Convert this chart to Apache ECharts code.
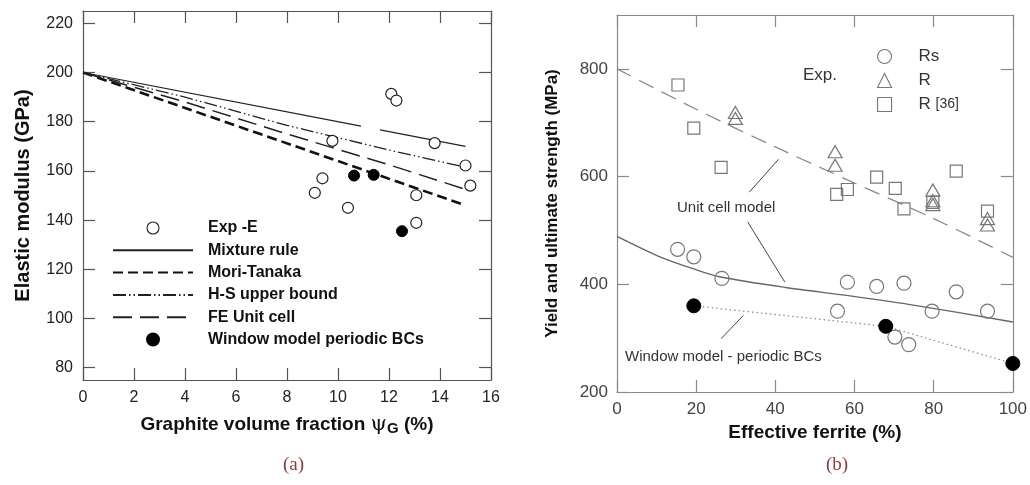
<!DOCTYPE html>
<html><head><meta charset="utf-8">
<script src="https://cdn.jsdelivr.net/npm/echarts@6/dist/echarts.min.js"></script>
<style>html,body{margin:0;padding:0;background:#fff}#c{width:1030px;height:485px}</style>
</head><body><div id="c"></div>
<script>
// ---------- Chart (a) data ----------
const expE = [[12.09,191.3],[12.29,188.6],[9.78,172.2],[13.79,171.3],[15.0,162.2],[15.19,154.0],[9.39,157.0],[9.09,151.1],[10.39,145.0],[13.07,150.1],[13.07,138.9]];
const windowA = [[10.63,158.1],[11.4,158.4],[12.51,135.5]];
const mixtureRule = [[0,200],[10.9,178.2],[11.3,'-'],[11.65,176.7],[15,170]];
const moriTanaka = [[0,200],[5,182],[10,164],[15,146]];
const hsUpper = [[0,200],[4,190],[8,178.5],[12,168.5],[15,161.5]];
const feUnitCell = [[0,200],[4,188],[8,175],[12,162.5],[15,152.5]];
const yTicksA = [80,100,120,140,160,180,200,220];

// ---------- Chart (b) data ----------
const rsExp = [[15.3,465],[19.4,451],[26.5,411],[55.7,350],[58.2,404],[65.6,396],[72.5,402],[79.6,350],[85.7,386],[93.6,350],[70.2,302],[73.7,288]];
const rExp = [[29.9,719],[29.9,708],[55.1,646],[55.1,621],[79.8,575],[79.8,555],[79.8,548],[93.6,522],[93.6,510]];
const r36 = [[15.4,770],[19.4,690],[26.3,617],[55.5,567],[58.2,576],[65.6,599],[70.3,578],[72.5,540],[85.7,610],[93.6,536],[79.8,552]];
const windowB = [[19.4,360],[67.9,322],[100,253]];
const unitCellYield = [[0,489],[10.85,451],[19.2,429],[25.9,414],[42.6,394],[59.3,378],[76,360],[100,330]];
const unitCellUlt = [[0,800],[20,725],[40,655],[60,588],[80,522],[100,450]];
const unitCellLeaders = [[[33.4,571],[40.8,632]],[[33,516],[42.4,404]]];
const windowLeader = [[26.3,299],[31.9,342]];
const yTicksB = [200,400,600,800];

const FONT = '"Liberation Sans", Arial, sans-serif';
const chart = echarts.init(document.getElementById('c'), null, {renderer:'canvas'});

const axA = {color:'#555', width:1.2};
const axB = {color:'#8a8a8a', width:1.2};
function xAx(grid, pos, min, max, interval, ls, label, extra){
  return Object.assign({type:'value', gridIndex:grid, position:pos, min, max, interval,
    axisLine:{show:true, onZero:false, lineStyle:ls},
    axisTick:{show:true, inside:true, length:12, lineStyle:ls},
    axisLabel:label, splitLine:{show:false}}, extra||{});
}
function yAx(grid, pos, min, max, ticks, ls, label, extra){
  return Object.assign({type:'value', gridIndex:grid, position:pos, min, max,
    axisLine:{show:true, onZero:false, lineStyle:ls},
    axisTick:{show:true, inside:true, length:12, lineStyle:ls, customValues:ticks},
    axisLabel:Object.assign({customValues:ticks}, label), splitLine:{show:false}}, extra||{});
}
const labA = {show:true, color:'#222', fontSize:16, fontFamily:FONT, margin:10};
const labB = {show:true, color:'#444', fontSize:17, fontFamily:FONT, margin:9};
const noSym = {opacity:0};
const thinB = {borderWidth:1.1};

const option = {
  animation:false,
  backgroundColor:'#fff',
  grid:[
    {left:83, top:11, width:408, height:369, show:false},
    {left:617, top:15, width:399, height:377, show:false}
  ],
  xAxis:[
    xAx(0,'bottom',0,16,2,axA,labA,{
      name:'{t|Graphite volume fraction }{p|ψ}{s|G}{t| (%)}', nameLocation:'middle', nameGap:33,
      nameTextStyle:{rich:{
        t:{fontSize:19, fontWeight:'bold', color:'#111', fontFamily:FONT},
        p:{fontSize:21, fontWeight:'normal', color:'#111', fontFamily:'"DejaVu Serif", serif'},
        s:{fontSize:15, fontWeight:'bold', color:'#111', fontFamily:FONT, padding:[8,0,0,0]}
      }}}),
    xAx(0,'top',0,16,2,axA,{show:false}),
    xAx(1,'bottom',0,100,20,axB,labB,{
      name:'Effective ferrite (%)', nameLocation:'middle', nameGap:28,
      nameTextStyle:{fontSize:19, fontWeight:'bold', color:'#111', fontFamily:FONT}}),
    xAx(1,'top',0,100,20,axB,{show:false})
  ],
  yAxis:[
    yAx(0,'left',75,225,yTicksA,axA,labA,{
      name:'Elastic modulus (GPa)', nameLocation:'middle', nameGap:50,
      nameTextStyle:{fontSize:20, fontWeight:'bold', color:'#111', fontFamily:FONT}}),
    yAx(0,'right',75,225,yTicksA,axA,{show:false}),
    yAx(1,'left',200,900,yTicksB,axB,labB,{
      name:'Yield and ultimate strength (MPa)', nameLocation:'middle', nameGap:56,
      nameTextStyle:{fontSize:17, fontWeight:'bold', color:'#111', fontFamily:FONT}}),
    yAx(1,'right',200,900,yTicksB,axB,{show:false})
  ],
  legend:[
    {orient:'vertical', left:107, top:215, itemWidth:80, itemHeight:12, itemGap:6.3,
     textStyle:{fontSize:16, fontWeight:'bold', color:'#111', fontFamily:FONT, padding:[0,0,0,10]},
     selectedMode:false,
     data:[{name:'Exp -E', itemStyle:thinB},
           {name:'Mixture rule', itemStyle:noSym},
           {name:'Mori-Tanaka', itemStyle:noSym},
           {name:'H-S upper bound', itemStyle:noSym},
           {name:'FE Unit cell', itemStyle:noSym},
           {name:'Window model periodic BCs'}]},
    {orient:'vertical', left:872, top:43, itemWidth:14, itemHeight:14, itemGap:7,
     textStyle:{fontSize:17, color:'#333', fontFamily:FONT, padding:[0,0,0,22],
       rich:{a:{fontSize:17, color:'#333', fontFamily:FONT}, b:{fontSize:14, color:'#333', fontFamily:FONT}}},
     selectedMode:false,
     formatter:function(n){ return n==='R [36]' ? '{a|R} {b|[36]}' : n; },
     data:[{name:'Rs', itemStyle:thinB},{name:'R', itemStyle:thinB},{name:'R [36]', itemStyle:thinB}]}
  ],
  graphic:[
    {type:'text', left:803, top:67, style:{text:'Exp.', fontSize:17, fill:'#333', fontFamily:FONT}},
    {type:'text', left:677, top:200, style:{text:'Unit cell model', fontSize:15, fill:'#333', fontFamily:FONT}},
    {type:'text', left:625, top:349, style:{text:'Window model - periodic BCs', fontSize:15, fill:'#333', fontFamily:FONT}},
    {type:'text', left:283, top:456, style:{text:'(a)', fontSize:19, fill:'#8c3b3b', fontFamily:'"Liberation Serif", serif'}},
    {type:'text', left:826, top:456, style:{text:'(b)', fontSize:19, fill:'#8c3b3b', fontFamily:'"Liberation Serif", serif'}}
  ],
  series:[
    {name:'Mixture rule', type:'line', xAxisIndex:0, yAxisIndex:0, data:mixtureRule, symbol:'none', connectNulls:false,
     lineStyle:{color:'#222', width:1.2, type:'solid'}, itemStyle:{color:'#222'}, z:2},
    {name:'Mori-Tanaka', type:'line', xAxisIndex:0, yAxisIndex:0, data:moriTanaka, symbol:'none',
     lineStyle:{color:'#111', width:2.6, type:[10,5]}, itemStyle:{color:'#111'}, z:2},
    {name:'H-S upper bound', type:'line', xAxisIndex:0, yAxisIndex:0, data:hsUpper, symbol:'none',
     lineStyle:{color:'#222', width:1.3, type:[13,3,1.5,3,1.5,3]}, itemStyle:{color:'#222'}, z:2},
    {name:'FE Unit cell', type:'line', xAxisIndex:0, yAxisIndex:0, data:feUnitCell, symbol:'none',
     lineStyle:{color:'#222', width:1.5, type:[19,8]}, itemStyle:{color:'#222'}, z:2},
    {name:'Exp -E', type:'scatter', xAxisIndex:0, yAxisIndex:0, data:expE, symbol:'circle', symbolSize:11,
     itemStyle:{color:'#fff', borderColor:'#222', borderWidth:1.2, opacity:1}, z:3},
    {name:'Window model periodic BCs', type:'scatter', xAxisIndex:0, yAxisIndex:0, data:windowA, symbol:'circle', symbolSize:11,
     itemStyle:{color:'#000', borderColor:'#000', borderWidth:1, opacity:1}, z:4},

    {name:'Unit cell ultimate', type:'line', xAxisIndex:2, yAxisIndex:2, data:unitCellUlt, symbol:'none', smooth:0.3,
     lineStyle:{color:'#8a8a8a', width:1.3, type:[16,9]}, z:2,
     markLine:{silent:true, symbol:['none','none'], label:{show:false}, lineStyle:{color:'#444', width:1, type:'solid'},
       data:unitCellLeaders.map(s=>[{coord:s[0]},{coord:s[1]}])}},
    {name:'Unit cell yield', type:'line', xAxisIndex:2, yAxisIndex:2, data:unitCellYield, symbol:'none', smooth:0.3,
     lineStyle:{color:'#666', width:1.3, type:'solid'}, z:2},
    {name:'Window model b', type:'line', xAxisIndex:2, yAxisIndex:2, data:windowB, symbol:'none',
     lineStyle:{color:'#888', width:1.2, type:[1.5,3]}, z:2,
     markLine:{silent:true, symbol:['none','none'], label:{show:false}, lineStyle:{color:'#444', width:1, type:'solid'},
       data:[[{coord:windowLeader[0]},{coord:windowLeader[1]}]]}},
    {name:'Rs', type:'scatter', xAxisIndex:2, yAxisIndex:2, data:rsExp, symbol:'circle', symbolSize:14,
     itemStyle:{color:'rgba(255,255,255,0)', borderColor:'#777', borderWidth:1.2, opacity:1}, z:3},
    {name:'R', type:'scatter', xAxisIndex:2, yAxisIndex:2, data:rExp, symbol:'triangle', symbolSize:[14,12],
     itemStyle:{color:'rgba(255,255,255,0)', borderColor:'#777', borderWidth:1.2, opacity:1}, z:3},
    {name:'R [36]', type:'scatter', xAxisIndex:2, yAxisIndex:2, data:r36, symbol:'rect', symbolSize:12,
     itemStyle:{color:'rgba(255,255,255,0)', borderColor:'#777', borderWidth:1.2, opacity:1}, z:3},
    {name:'Window B pts', type:'scatter', xAxisIndex:2, yAxisIndex:2, data:windowB, symbol:'circle', symbolSize:14,
     itemStyle:{color:'#000', borderColor:'#000', opacity:1}, z:4}
  ]
};
chart.setOption(option);
</script></body></html>
